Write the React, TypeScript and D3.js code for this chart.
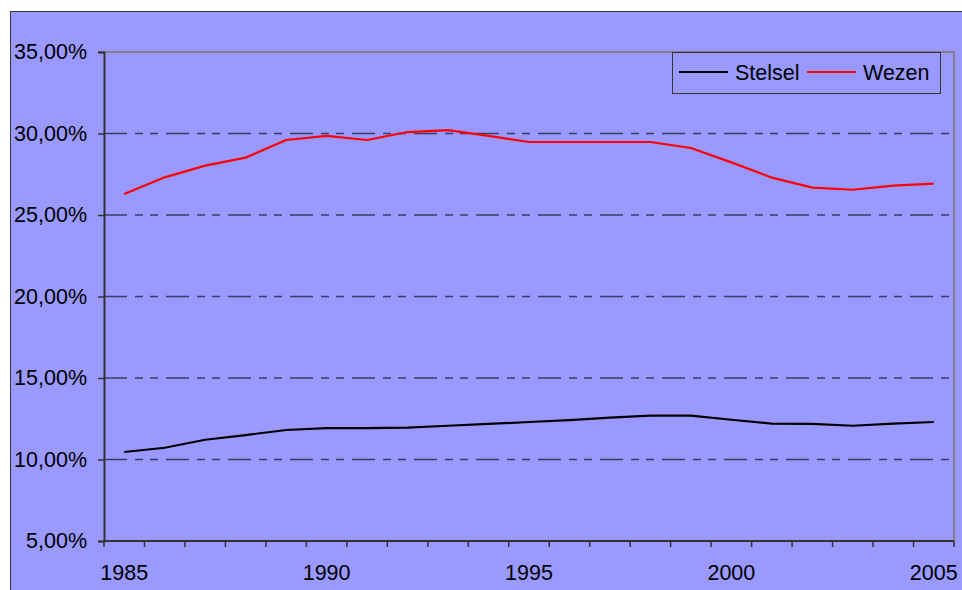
import React, { useRef, useEffect } from "react";
import * as d3 from "d3";

const years = d3.range(1985, 2006).map(String);
const stelsel = [10.46, 10.72, 11.21, 11.5, 11.81, 11.93, 11.93, 11.95, 12.07, 12.18, 12.3, 12.42, 12.57, 12.69, 12.69, 12.44, 12.2, 12.18, 12.07, 12.2, 12.3];
const wezen = [26.29, 27.31, 28.03, 28.52, 29.6, 29.85, 29.6, 30.09, 30.21, 29.85, 29.48, 29.48, 29.48, 29.48, 29.11, 28.23, 27.29, 26.68, 26.55, 26.8, 26.92];
const yTicks = [5, 10, 15, 20, 25, 30, 35];
const xLabels = ["1985", "1990", "1995", "2000", "2005"];
const seriesNames = ["Stelsel", "Wezen"];
const seriesColors = ["#000000", "#ff0000"];

const W = 962;
const H = 590;
const left = 104;
const right = 954;
const top = 52;
const bottom = 541;
const font = "'Liberation Sans', Arial, sans-serif";

const App = () => {
  const svgRef = useRef<SVGSVGElement>(null);

  useEffect(() => {
    const svg = d3.select(svgRef.current);
    svg.selectAll("*").remove();

    const x = d3.scaleBand().domain(years).range([left, right]);
    const y = d3.scaleLinear().domain([5, 35]).range([bottom, top]);

    // outer chart area
    svg.append("rect").attr("width", W).attr("height", H).attr("fill", "#ffffff");
    svg.append("rect")
      .attr("x", 10.5).attr("y", 11.5).attr("width", W).attr("height", H)
      .attr("fill", "#9999ff").attr("stroke", "#333333").attr("stroke-width", 1);

    // plot border (top and right)
    svg.append("path")
      .attr("d", `M${left},${top}H${right}V${bottom}`)
      .attr("fill", "none").attr("stroke", "#808080").attr("stroke-width", 2);

    // gridlines
    svg.append("g")
      .selectAll("line")
      .data(yTicks.filter((d) => d !== 5 && d !== 35))
      .join("line")
      .attr("x1", left).attr("x2", right)
      .attr("y1", (d) => y(d)).attr("y2", (d) => y(d))
      .attr("stroke", "#3c3c62").attr("stroke-width", 1.5)
      .attr("stroke-dasharray", "23 8 8 7 8 8");

    // y axis
    const yAxis = svg.append("g")
      .attr("transform", `translate(${left},0)`)
      .call(d3.axisLeft(y).tickValues(yTicks).tickSize(6).tickPadding(11)
        .tickFormat((d) => (d as number).toFixed(2).replace(".", ",") + "%"));
    yAxis.select(".domain").attr("stroke", "#333333").attr("stroke-width", 2);
    yAxis.selectAll(".tick line").attr("stroke", "#333333").attr("stroke-width", 1.5);
    yAxis.selectAll("text").attr("font-family", font).attr("font-size", 21.5).attr("fill", "#000");

    // x axis
    const xAxis = svg.append("g").attr("transform", `translate(0,${bottom})`);
    xAxis.append("line")
      .attr("x1", left).attr("x2", right)
      .attr("stroke", "#333333").attr("stroke-width", 2);
    const boundaries = years.map((d) => x(d) as number).concat([right]);
    xAxis.selectAll(".tk")
      .data(boundaries)
      .join("line")
      .attr("class", "tk")
      .attr("x1", (d) => d).attr("x2", (d) => d)
      .attr("y1", 0).attr("y2", 6)
      .attr("stroke", "#333333").attr("stroke-width", 1.5);
    xAxis.selectAll("text")
      .data(xLabels)
      .join("text")
      .attr("x", (d) => (x(d) as number) + x.bandwidth() / 2)
      .attr("y", 39)
      .attr("text-anchor", "middle")
      .attr("font-family", font).attr("font-size", 21.5)
      .text((d) => d);

    // lines
    const lineGen = d3.line<number>()
      .x((_, i) => (x(years[i]) as number) + x.bandwidth() / 2)
      .y((d) => y(d));
    [stelsel, wezen].forEach((s, i) => {
      svg.append("path")
        .attr("d", lineGen(s))
        .attr("fill", "none")
        .attr("stroke", seriesColors[i])
        .attr("stroke-width", 2.2)
        .attr("stroke-linejoin", "round");
    });

    // legend
    const lg = svg.append("g");
    lg.append("rect")
      .attr("x", 672.5).attr("y", 52.5).attr("width", 268).attr("height", 41)
      .attr("fill", "#9999ff").attr("stroke", "#333333").attr("stroke-width", 1);
    const items = [
      { lx: 679, tx: 735 },
      { lx: 807, tx: 863 },
    ];
    items.forEach((it, i) => {
      lg.append("line")
        .attr("x1", it.lx).attr("x2", it.lx + 49)
        .attr("y1", 72).attr("y2", 72)
        .attr("stroke", seriesColors[i]).attr("stroke-width", 2);
      lg.append("text")
        .attr("x", it.tx).attr("y", 79.5)
        .attr("font-family", font).attr("font-size", 21.5)
        .text(seriesNames[i]);
    });
  }, []);

  return (
    <svg ref={svgRef} width={W} height={H} style={{ position: "absolute", left: 0, top: 0 }} />
  );
};

export default App;
